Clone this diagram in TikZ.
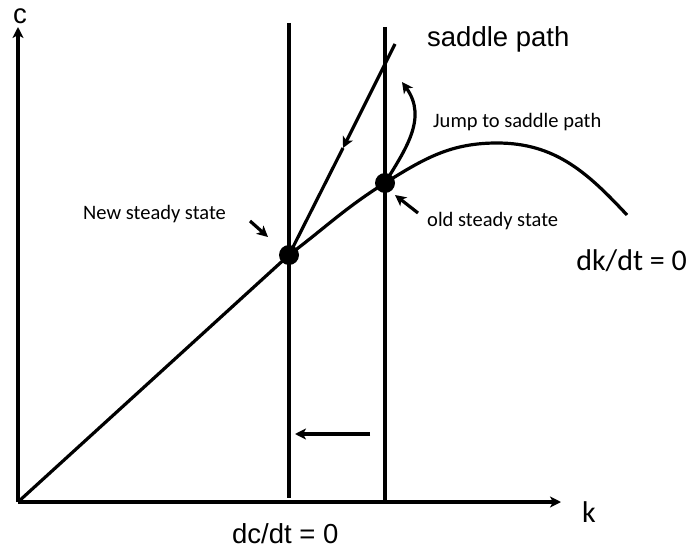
\documentclass[tikz,border=0pt]{standalone}
\usepackage{fontspec}
\setmainfont{Carlito}
\newfontfamily\arialf{Liberation Sans}
\usetikzlibrary{arrows.meta}
\begin{document}
\begin{tikzpicture}[x=1pt,y=-1pt,
  thick line/.style={line width=3.2pt},
  arr/.style={thick line,-{Stealth[length=11pt,width=11pt,inset=3pt]}},
  small/.style={inner sep=0pt,font=\fontsize{20.5}{24}\selectfont},
  big/.style={inner sep=0pt,font=\arialf\fontsize{27.5}{32}\selectfont},
  bigc/.style={inner sep=0pt,font=\fontsize{30}{34}\selectfont},
  dot/.style={circle,fill=black,inner sep=0pt,minimum size=20pt}]
\useasboundingbox (0,0) rectangle (688,548);
% axes
\coordinate (O) at (18,502);
\coordinate (ytop) at (18,27);
\coordinate (xend) at (561,502);
\draw[arr] (O) -- (ytop);
\draw[arr] (O) -- (xend);
\node[big,anchor=base] (clab) at (20,24) {c};
\node[bigc,anchor=base west] (klab) at (582,522) {k};
% vertical lines
\coordinate (v1t) at (289,23);
\coordinate (v1b) at (289,498);
\coordinate (v2t) at (385,27);
\coordinate (v2b) at (385,502);
\draw[thick line] (v1t) -- (v1b);
\draw[thick line] (v2t) -- (v2b);
% steady states
\node[dot] (new) at (289,255) {};
\node[dot] (old) at (385,183) {};
% dk/dt curve
\coordinate (peak) at (497,143);
\coordinate (cend) at (627,215);
\draw[thick line] (O) -- (new.center) to[out=37,in=-148] (old.center) to[out=32,in=180] (peak) to[out=0,in=133] (cend);
% saddle path
\coordinate (stop) at (395,44);
\coordinate (smid) at (343,148);
\draw[arr] (stop) -- (smid);
\draw[thick line] (smid) -- (new.center);
% jump
\coordinate (jtop) at (402,82);
\draw[arr] (old.center) .. controls (405,150) and (428,118) .. (jtop);
% horizontal shift arrow
\coordinate (hs) at (370,434);
\coordinate (he) at (295,434);
\draw[arr] (hs) -- (he);
% small pointer arrows
\coordinate (na1) at (250,221);
\coordinate (na2) at (268,237);
\draw[arr] (na1) -- (na2);
\coordinate (oa1) at (418,213);
\coordinate (oa2) at (395,195);
\draw[arr] (oa1) -- (oa2);
% labels
\node[big,anchor=base west] (sp) at (427,47) {saddle path};
\node[small,anchor=base west] (jl) at (433,128) {Jump to saddle path};
\node[small,anchor=base west] (nl) at (83,220) {New steady state};
\node[small,anchor=base west] (ol) at (427,226) {old steady state};
\node[bigc,anchor=base east] (dk) at (687,270) {dk/dt = 0};
\node[big,anchor=base west] (dc) at (232,543) {dc/dt = 0};
\end{tikzpicture}
\end{document}
